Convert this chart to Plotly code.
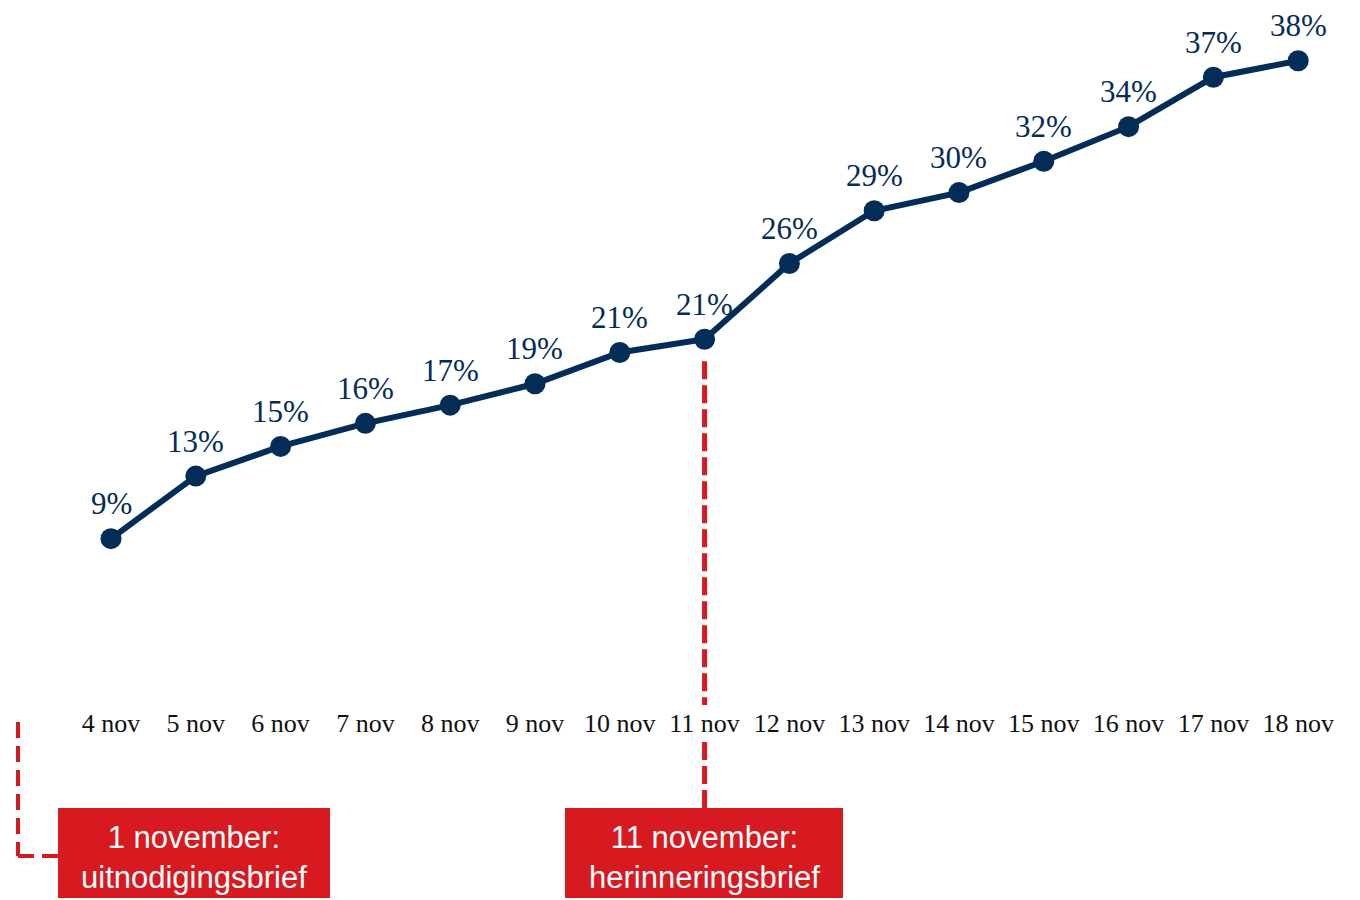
import plotly.graph_objects as go

# ---- data ----
dates = ["4 nov", "5 nov", "6 nov", "7 nov", "8 nov", "9 nov", "10 nov", "11 nov",
         "12 nov", "13 nov", "14 nov", "15 nov", "16 nov", "17 nov", "18 nov"]
values = [9.0, 12.8, 14.6, 16.0, 17.1, 18.4, 20.3, 21.1, 25.7, 28.9, 30.0, 31.9, 34.0, 37.0, 38.0]
labels = ["9%", "13%", "15%", "16%", "17%", "19%", "21%", "21%", "26%", "29%", "30%",
          "32%", "34%", "37%", "38%"]
events = [
    {"date": "1 november", "text": "1 november:<br>uitnodigingsbrief"},
    {"date": "11 nov", "text": "11 november:<br>herinneringsbrief"},
]

NAVY = "#032C57"
RED = "#D71920"
SERIF = "Georgia, 'Liberation Serif', 'DejaVu Serif', serif"
SANS = "Arial, 'Liberation Sans', sans-serif"

OFF = 8  # page body margin
W, H = 1360 - OFF, 900 - OFF
PLOT_BOTTOM = 705  # screen px
MB = H - (PLOT_BOTTOM - OFF)
x_idx = list(range(len(dates)))
x_range = [-1.2146, 14.729]
y_range = [-1.09, 41.2]

fig = go.Figure()
fig.add_trace(go.Scatter(
    x=x_idx, y=values, mode="lines+markers",
    line=dict(color=NAVY, width=6),
    marker=dict(color=NAVY, size=21),
    hoverinfo="skip", showlegend=False, cliponaxis=False,
))

for xi, v, lab in zip(x_idx, values, labels):
    fig.add_annotation(x=xi, y=v, xref="x", yref="y", text=lab, showarrow=False,
                       yshift=35, yanchor="middle", xanchor="center", borderpad=0,
                       font=dict(family=SERIF, size=31, color=NAVY))

def xpaper_idx(idx):
    return (idx - x_range[0]) / (x_range[1] - x_range[0])

def xpaper(px):
    return (px - OFF) / W

def ypaper(py):
    ph = H - MB
    return (ph - (py - OFF)) / ph

box_top, box_bot = 808, 898
dash = "18px,6px"

# 11 november reminder line and box
i11 = dates.index("11 nov")
xp = xpaper_idx(i11)
pt_px = OFF + (y_range[1] - values[i11]) / (y_range[1] - y_range[0]) * (H - MB)
fig.add_shape(type="line", xref="paper", yref="paper", x0=xp, x1=xp,
              y0=ypaper(pt_px + 22), y1=ypaper(705),
              line=dict(color=RED, width=5, dash=dash))
fig.add_shape(type="line", xref="paper", yref="paper", x0=xp, x1=xp,
              y0=ypaper(742), y1=ypaper(box_top),
              line=dict(color=RED, width=5, dash=dash))
fig.add_shape(type="rect", xref="paper", yref="paper", x0=xpaper(565), x1=xpaper(843),
              y0=ypaper(box_bot), y1=ypaper(box_top),
              fillcolor=RED, line=dict(width=0))
fig.add_annotation(xref="paper", yref="paper", x=xpaper((565 + 843) / 2),
                   y=ypaper((box_top + box_bot) / 2 + 4), text=events[1]["text"],
                   showarrow=False, xanchor="center", yanchor="middle",
                   font=dict(family=SANS, size=31, color="white"))

# 1 november bracket and box
fig.add_shape(type="line", xref="paper", yref="paper", x0=xpaper(18), x1=xpaper(18),
              y0=ypaper(722), y1=ypaper(856),
              line=dict(color=RED, width=4, dash="16px,8px"))
fig.add_shape(type="line", xref="paper", yref="paper", x0=xpaper(18), x1=xpaper(58),
              y0=ypaper(856), y1=ypaper(856),
              line=dict(color=RED, width=4, dash="16px,8px"))
fig.add_shape(type="rect", xref="paper", yref="paper", x0=xpaper(58), x1=xpaper(330),
              y0=ypaper(box_bot), y1=ypaper(box_top),
              fillcolor=RED, line=dict(width=0))
fig.add_annotation(xref="paper", yref="paper", x=xpaper((58 + 330) / 2),
                   y=ypaper((box_top + box_bot) / 2 + 4), text=events[0]["text"],
                   showarrow=False, xanchor="center", yanchor="middle",
                   font=dict(family=SANS, size=31, color="white"))

fig.update_layout(
    width=W, height=H,
    margin=dict(l=0, r=0, t=0, b=MB),
    paper_bgcolor="white", plot_bgcolor="white",
    xaxis=dict(range=x_range, tickmode="array", tickvals=x_idx, ticktext=dates,
               showgrid=False, zeroline=False, showline=False, ticks="",
               tickfont=dict(family=SERIF, size=26, color="#111111")),
    yaxis=dict(range=y_range, visible=False),
)

fig.write_html("out.html")
